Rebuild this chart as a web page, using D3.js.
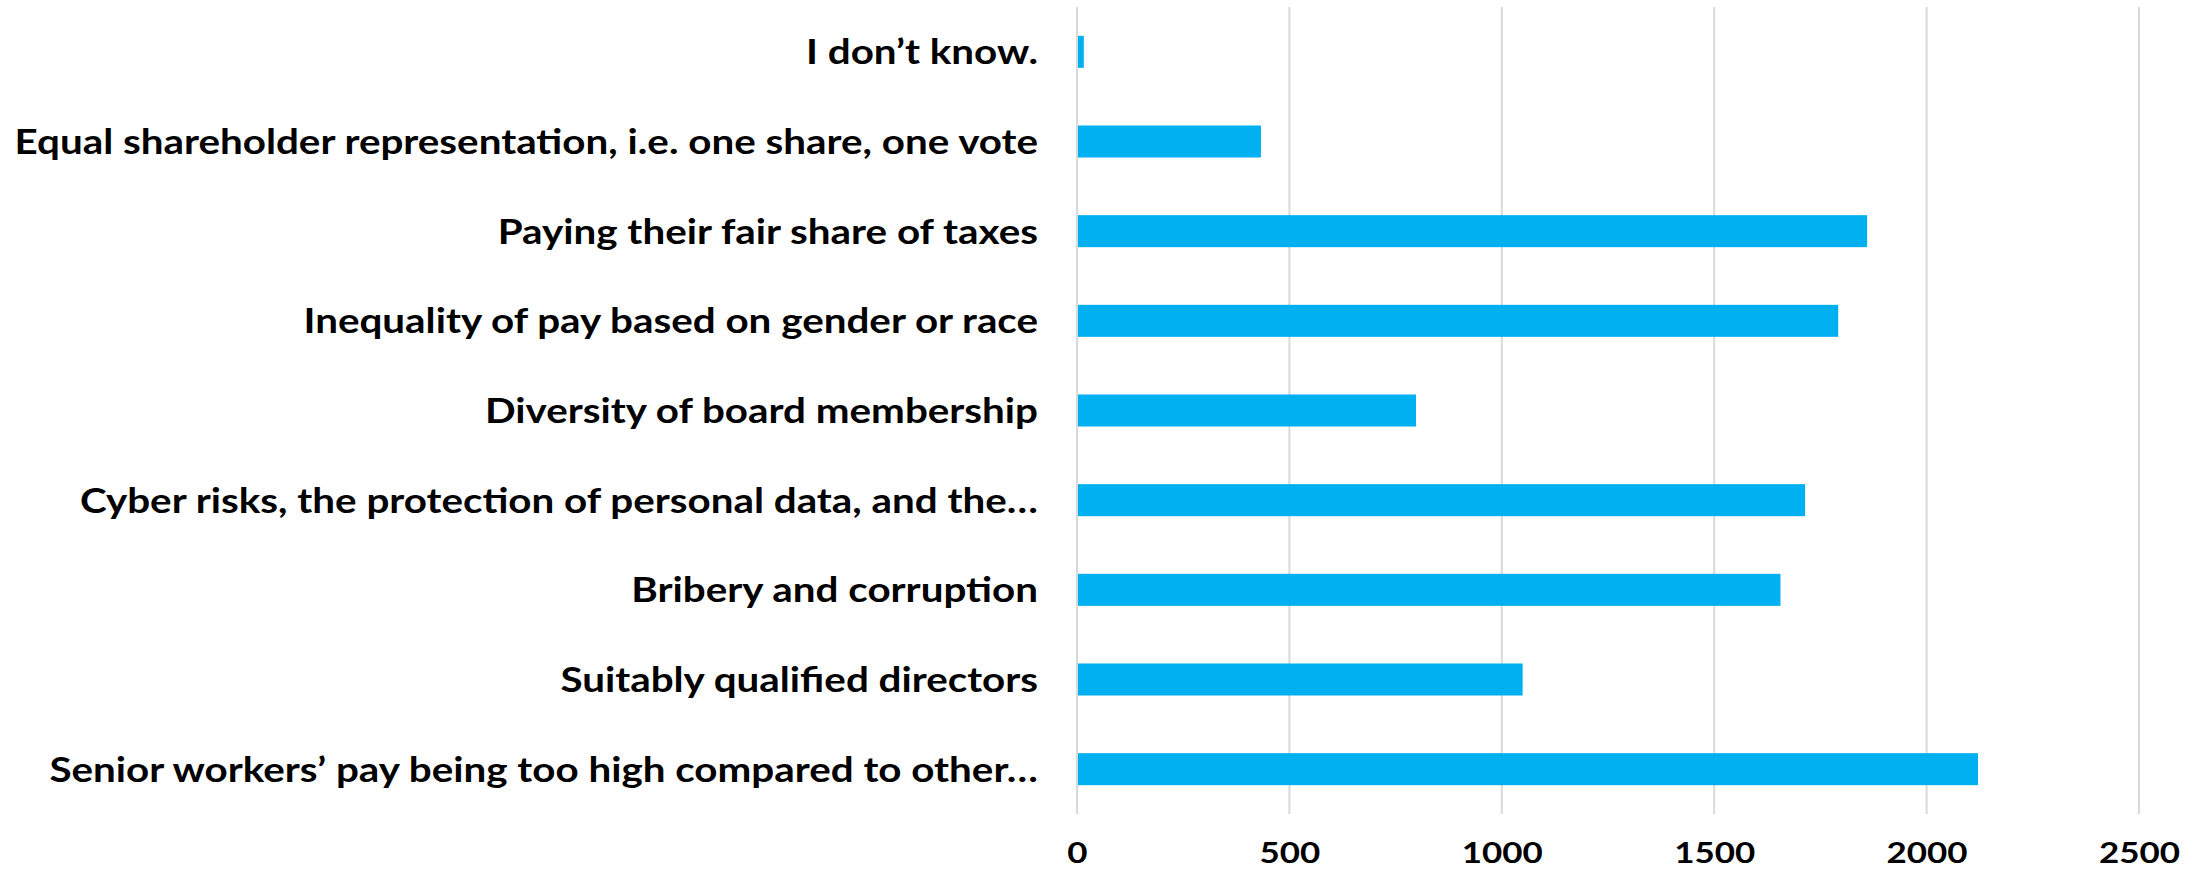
<!DOCTYPE html>
<html>
<head>
<meta charset="utf-8">
<script src="https://cdn.jsdelivr.net/npm/d3@7"></script>
<style>
  html, body { margin: 0; padding: 0; background: #ffffff; }
  svg { display: block; }
  text { font-family: Lato, "Open Sans", "Liberation Sans", sans-serif; font-weight: 700; fill: #000; }
</style>
</head>
<body>
<svg id="chart" width="2199" height="869"></svg>
<script>
// Survey answers, listed from top to bottom of the chart
const categories = [
  "I don\u2019t know.",
  "Equal shareholder representation, i.e. one share, one vote",
  "Paying their fair share of taxes",
  "Inequality of pay based on gender or race",
  "Diversity of board membership",
  "Cyber risks, the protection of personal data, and the\u2026",
  "Bribery and corruption",
  "Suitably qualified directors",
  "Senior workers\u2019 pay being too high compared to other\u2026"
];
const values = [16, 433, 1860, 1792, 798, 1714, 1656, 1049, 2121];
const tickValues = [0, 500, 1000, 1500, 2000, 2500];

const plot = { left: 1077, right: 2139, top: 7, bottom: 814 };
const labelRight = 1038;      // right edge of the category labels
const labelWidthMax = 1024;   // width of the longest category label

const svg = d3.select("#chart");

const x = d3.scaleLinear().domain([0, 2500]).range([plot.left, plot.right]);
const y = d3.scaleBand()
  .domain(categories)
  .range([plot.top, plot.bottom])
  .paddingInner(0.643)
  .paddingOuter(0.3215);

// vertical gridlines
svg.append("g")
  .selectAll("line")
  .data(tickValues)
  .join("line")
  .attr("x1", d => x(d))
  .attr("x2", d => x(d))
  .attr("y1", plot.top)
  .attr("y2", plot.bottom)
  .attr("stroke", "#d9d9d9")
  .attr("stroke-width", 2);

// bars
svg.append("g")
  .selectAll("rect")
  .data(categories.map((c, i) => ({ c, v: values[i] })))
  .join("rect")
  .attr("x", x(0) + 1)
  .attr("y", d => y(d.c))
  .attr("width", d => Math.max(0, x(d.v) - x(0) - 1))
  .attr("height", y.bandwidth())
  .attr("fill", "#00b0f0");

// category labels, right aligned next to the axis
const labels = svg.append("g")
  .selectAll("text")
  .data(categories)
  .join("text")
  .attr("text-anchor", "end")
  .attr("font-size", 33.5)
  .attr("x", 0)
  .attr("y", 0)
  .text(d => d);

// condense the glyphs so the longest answer fits the label column
const widest = d3.max(labels.nodes(), n => n.getComputedTextLength());
const squeeze = labelWidthMax / widest;
labels.attr("transform", d => `translate(${labelRight},${y(d) + y.bandwidth() / 2 + 12.5}) scale(${squeeze},1)`);

// value axis along the bottom
const axis = svg.append("g")
  .attr("transform", `translate(0,${plot.bottom})`)
  .call(d3.axisBottom(x).tickValues(tickValues).tickSize(0).tickFormat(d3.format("d")));
axis.select(".domain").remove();
axis.selectAll("text")
  .attr("y", 49)
  .attr("dy", 0)
  .attr("font-size", 29)
  .attr("font-family", null)
  .attr("fill", "#000")
  .attr("transform", `scale(${squeeze},1)`);
</script>
</body>
</html>
